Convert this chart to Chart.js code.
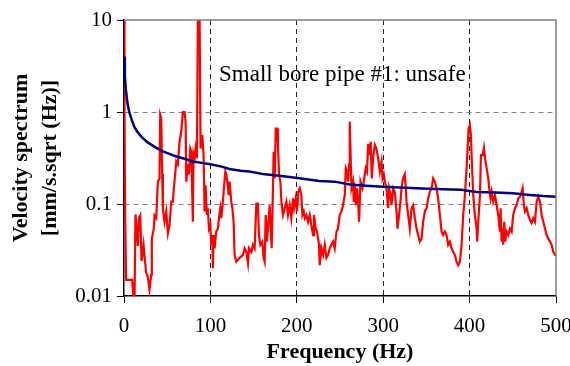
<!DOCTYPE html>
<html>
<head>
<meta charset="utf-8">
<script src="https://cdn.jsdelivr.net/npm/chart.js"></script>
<style>
  html, body { margin: 0; padding: 0; background: #fff; }
</style>
</head>
<body>
<canvas id="myChart" width="570" height="366"></canvas>
<script>
// measured spectrum (red)
var redFreq = [0, 0.6, 1.3, 2.5, 6.4, 9.5, 11, 12.2, 13.3, 16, 17.2, 18.8, 20.3, 22.6, 24.1, 25.7, 27.6, 29.5, 31.5, 32.2,
  34.5, 35.3, 37.3, 39.2, 41.1, 41.9, 43.1, 44.2, 45, 46.9, 48.9, 50.8, 52.7, 54.7, 56.6, 57.7, 60.5, 62.3, 64.3, 66.3,
  68.1, 70.1, 71.3, 72.1, 73.9, 75.1, 76.7, 77.9, 79.7, 80.5, 81.7, 82.9, 84.4, 85.5, 87.5, 88.6, 90.6, 92.1, 93.3, 94.4,
  96, 97.1, 98.3, 99.9, 101, 102.2, 102.9, 103.7, 104.9, 106.8, 108.7, 109.9, 111.5, 112.6, 114.5, 115.6, 117.3, 118.4, 119.6, 121.1,
  122.2, 124.2, 125.4, 126.9, 128, 130, 133.8, 135.8, 137.7, 139.6, 141.6, 143.5, 144.6, 147.4, 149.2, 151.2, 153.2, 155, 156.2, 157.8,
  160.1, 161.6, 162.8, 164, 165.5, 166.6, 168.6, 169.8, 170.9, 172.4, 173.2, 174.4, 175.6, 177.1, 178.2, 179.4, 181, 182.2, 184, 186,
  188, 189.8, 191.8, 193.7, 195.6, 196.8, 198.7, 200.3, 201.8, 203.4, 205.3, 206.5, 208, 209.2, 211.1, 213, 215, 216.9, 218.8, 219.9,
  221.9, 223.4, 225.7, 226.5, 228.5, 230.4, 232.3, 234.3, 236.2, 238.1, 240.1, 242, 243.9, 245.9, 247.7, 249.7, 251.7, 253.5, 255.5, 256.7,
  258.2, 259.3, 260.5, 261.3, 262.1, 263.3, 265.1, 265.9, 267.1, 268.3, 269.8, 271, 272.1, 273.7, 276, 277.5, 279.8, 281.3, 282.5, 283.7,
  284.5, 285.6, 286.8, 288.3, 290.3, 292.2, 294.1, 296.1, 298.1, 299.2, 300.7, 301.9, 303.8, 305.7, 306.8, 308.5, 309.6, 311.5, 313.4, 315.4,
  316.6, 318.4, 320, 321.2, 323, 325, 326.2, 327, 328.9, 330.8, 332.8, 334.7, 336.6, 338.6, 340.4, 342.4, 344.4, 346.2, 348.2, 350.2,
  352, 354, 356, 357.8, 359.8, 361.8, 363.6, 365.6, 367.6, 369.4, 371.4, 373.3, 375.2, 377.2, 379.1, 381, 383, 384.9, 386.8, 388.8,
  390.7, 392.6, 394.6, 396.5, 397.7, 398.8, 400.3, 401.5, 402.7, 404.2, 406.1, 408.1, 408.8, 410, 412, 413.1, 415.1, 416.6, 417.8, 419.7,
  421.6, 422.7, 424.3, 425.5, 427.3, 429.3, 431.3, 433.1, 435.1, 435.9, 437.1, 438.2, 438.9, 440.1, 441.2, 442.9, 444.7, 446.7, 448.7, 450.5,
  452.5, 454.4, 456.4, 458.3, 460.3, 461.4, 462.9, 464.1, 466, 467.9, 469.9, 471.8, 473.7, 475.7, 477.6, 479.5, 481.5, 483.4, 485.3, 487.3,
  489.2, 491.1, 493.1, 495, 496.9, 498.9, 500];
var redVel = [10.5, 0.9, 0.076, 0.015, 0.015, 0.015, 0.0094, 0.0094, 0.077, 0.035, 0.07, 0.075, 0.024, 0.036, 0.025, 0.018, 0.016, 0.0116, 0.017, 0.042,
  0.054, 0.075, 0.07, 0.175, 0.19, 0.93, 0.85, 0.21, 0.09, 0.064, 0.083, 0.048, 0.059, 0.106, 0.106, 0.148, 0.29, 0.27, 0.475, 0.61,
  1.0, 1.0, 0.79, 0.175, 0.27, 0.21, 0.40, 0.37, 0.064, 0.35, 0.315, 0.40, 0.315, 10.5, 10.5, 0.40, 0.56, 0.34, 0.083, 0.16,
  0.076, 0.09, 0.054, 0.059, 0.036, 0.046, 0.020, 0.046, 0.033, 0.05, 0.054, 0.07, 0.09, 0.07, 0.106, 0.148, 0.225, 0.21, 0.175, 0.125,
  0.175, 0.106, 0.09, 0.064, 0.028, 0.0236, 0.026, 0.027, 0.028, 0.033, 0.030, 0.0227, 0.033, 0.030, 0.036, 0.033, 0.101, 0.101, 0.046, 0.036,
  0.039, 0.026, 0.0236, 0.076, 0.039, 0.054, 0.097, 0.054, 0.033, 0.148, 0.37, 0.19, 0.66, 0.66, 0.44, 0.21, 0.175, 0.106, 0.076, 0.09,
  0.106, 0.076, 0.097, 0.07, 0.115, 0.09, 0.115, 0.083, 0.136, 0.148, 0.125, 0.076, 0.083, 0.07, 0.076, 0.064, 0.076, 0.059, 0.046, 0.076,
  0.054, 0.05, 0.036, 0.0216, 0.033, 0.028, 0.036, 0.026, 0.028, 0.033, 0.036, 0.039, 0.033, 0.05, 0.054, 0.076, 0.083, 0.097, 0.125, 0.245,
  0.225, 0.175, 0.27, 0.79, 0.40, 0.148, 0.175, 0.106, 0.16, 0.097, 0.148, 0.106, 0.064, 0.175, 0.148, 0.175, 0.245, 0.225, 0.44, 0.44,
  0.34, 0.475, 0.19, 0.315, 0.44, 0.40, 0.315, 0.225, 0.29, 0.19, 0.21, 0.175, 0.148, 0.09, 0.148, 0.125, 0.097, 0.148, 0.136, 0.083,
  0.054, 0.076, 0.106, 0.148, 0.19, 0.21, 0.148, 0.106, 0.076, 0.054, 0.09, 0.097, 0.07, 0.054, 0.046, 0.039, 0.042, 0.064, 0.083, 0.09,
  0.115, 0.136, 0.148, 0.19, 0.175, 0.148, 0.115, 0.076, 0.05, 0.046, 0.05, 0.046, 0.036, 0.039, 0.033, 0.030, 0.028, 0.0236, 0.0216, 0.0236,
  0.036, 0.076, 0.125, 0.245, 0.40, 0.66, 0.72, 0.56, 0.27, 0.125, 0.076, 0.054, 0.039, 0.064, 0.125, 0.34, 0.34, 0.41, 0.315, 0.245,
  0.19, 0.148, 0.115, 0.136, 0.106, 0.125, 0.097, 0.076, 0.05, 0.09, 0.039, 0.054, 0.036, 0.064, 0.039, 0.05, 0.046, 0.054, 0.05, 0.076,
  0.09, 0.097, 0.115, 0.12, 0.136, 0.148, 0.097, 0.083, 0.09, 0.076, 0.067, 0.062, 0.07, 0.064, 0.106, 0.12, 0.106, 0.076, 0.064, 0.054,
  0.046, 0.042, 0.039, 0.036, 0.030, 0.028, 0.028];

// limit curve (blue)
var blueFreq = [0, 1, 2, 4, 6, 9, 12, 16, 20, 27, 35, 43, 51, 60, 70, 80, 90, 100, 113, 122,
  135, 145, 163, 180, 203, 226, 244, 261, 280, 300, 325, 345, 370, 390, 408, 430, 450, 470, 485, 500];
var blueVel = [4.0, 2.5, 1.8, 1.25, 1.0, 0.82, 0.69, 0.6, 0.54, 0.47, 0.42, 0.38, 0.355, 0.33, 0.31, 0.29, 0.28, 0.27, 0.255, 0.24,
  0.23, 0.225, 0.21, 0.203, 0.19, 0.178, 0.175, 0.163, 0.158, 0.154, 0.15, 0.147, 0.145, 0.143, 0.135, 0.133, 0.131, 0.125, 0.122, 0.12];

var xTicks = [0, 100, 200, 300, 400, 500];
var yTicks = [0.01, 0.1, 1, 10];
var yTickLabels = ['0.01', '0.1', '1', '10'];
var noteText = 'Small bore pipe #1: unsafe';
var noteAt = { x: 110, y: 2.5 };

var serif = '"Liberation Serif", "Times New Roman", serif';

function toPoints(xs, ys) {
    return xs.map(function (x, i) { return { x: x, y: ys[i] }; });
}

// top/right frame + the note inside the plot
var extras = {
    id: 'extras',
    afterDatasetsDraw: function (chart) {
        var ctx = chart.ctx, a = chart.chartArea;
        ctx.save();
        ctx.strokeStyle = '#808080';
        ctx.lineWidth = 1.5;
        ctx.beginPath();
        ctx.moveTo(a.left, a.top);
        ctx.lineTo(a.right, a.top);
        ctx.lineTo(a.right, a.bottom);
        ctx.stroke();
        ctx.fillStyle = '#000';
        ctx.font = '23px ' + serif;
        ctx.textAlign = 'left';
        ctx.textBaseline = 'middle';
        ctx.fillText(noteText, chart.scales.x.getPixelForValue(noteAt.x), chart.scales.y.getPixelForValue(noteAt.y));
        ctx.restore();
    }
};

var ctx = document.getElementById('myChart').getContext('2d');

var myChart = new Chart(ctx, {
    type: 'line',
    data: {
        datasets: [{
            label: 'blue',
            data: toPoints(blueFreq, blueVel),
            borderColor: '#000080',
            borderWidth: 2.5,
            pointRadius: 0,
            tension: 0
        }, {
            label: 'red',
            data: toPoints(redFreq, redVel),
            borderColor: '#ff0000',
            borderWidth: 2.2,
            pointRadius: 0,
            tension: 0
        }]
    },
    options: {
        responsive: false,
        animation: false,
        layout: { padding: { top: 20, right: 14, left: 0, bottom: 0 } },
        plugins: {
            legend: { display: false },
            tooltip: { enabled: false }
        },
        scales: {
            x: {
                type: 'linear',
                min: 0,
                max: 500,
                afterBuildTicks: function (s) { s.ticks = xTicks.map(function (v) { return { value: v }; }); },
                afterFit: function (s) { s.height = 70; s.paddingLeft = 0; s.paddingRight = 0; },
                ticks: { color: '#000', padding: 11, maxRotation: 0, font: { family: serif, size: 21 } },
                grid: {
                    color: function (c) { return (c.tick && (c.tick.value === 0 || c.tick.value === 500)) ? 'rgba(0,0,0,0)' : '#222'; },
                    tickColor: '#000',
                    tickLength: 7,
                    lineWidth: 1
                },
                border: { color: '#000', width: 1.5, dash: [5, 4] },
                title: {
                    display: true,
                    text: 'Frequency (Hz)',
                    color: '#000',
                    font: { family: serif, size: 22, weight: 'bold', lineHeight: 1.2 },
                    padding: { top: 0, bottom: 0 }
                }
            },
            y: {
                type: 'logarithmic',
                min: 0.01,
                max: 10,
                afterBuildTicks: function (s) { s.ticks = yTicks.map(function (v) { return { value: v }; }); },
                afterFit: function (s) { s.width = 124; s.paddingTop = 0; s.paddingBottom = 0; },
                ticks: {
                    color: '#000',
                    padding: 5,
                    font: { family: serif, size: 21 },
                    callback: function (v) { var i = yTicks.indexOf(v); return i < 0 ? '' : yTickLabels[i]; }
                },
                grid: {
                    color: function (c) { return (c.tick && (c.tick.value === 0.01 || c.tick.value === 10)) ? 'rgba(0,0,0,0)' : '#808080'; },
                    tickColor: '#000',
                    tickLength: 7,
                    lineWidth: 1
                },
                border: { color: '#000', width: 1.5, dash: [5, 4] },
                title: {
                    display: true,
                    text: ['Velocity spectrum', '[mm/s.sqrt (Hz)]'],
                    color: '#000',
                    font: { family: serif, size: 22, weight: 'bold', lineHeight: 1.32 },
                    padding: { top: 6.5, bottom: 0 }
                }
            }
        }
    },
    plugins: [extras]
});
</script>
</body>
</html>
